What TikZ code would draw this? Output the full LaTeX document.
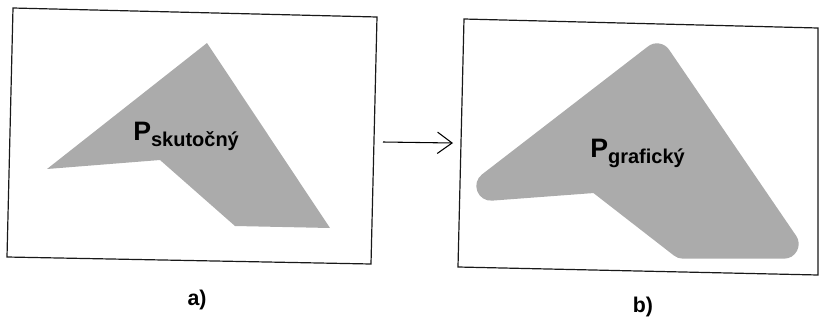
\documentclass[tikz,border=0pt]{standalone}
\usepackage{fontspec}
\setmainfont{Liberation Sans}
\usetikzlibrary{arrows.meta}
\tikzset{
  frame/.style={line width=0.9pt,black!90},
  area/.style={fill=black!33,draw=none},
  lbl/.style={inner sep=0pt,anchor=base west,font=\bfseries},
  caption label/.style={inner sep=0pt,font=\bfseries\fontsize{16}{16}\selectfont},
}
\newcommand{\Psub}[1]{{\fontsize{20}{20}\selectfont P}\raisebox{-5pt}{\fontsize{15}{15}\selectfont #1}}
\begin{document}
\begin{tikzpicture}[x=0.75pt,y=-0.75pt,>={Straight Barb[length=11pt,width=16pt]}]
  \useasboundingbox (0,0) rectangle (819,326);
  % a) skutocny
  \draw[frame] (13,8)--(377,17)--(371,264)--(7,257)--cycle;
  \fill[area] (207,43)--(330,228)--(235,226)--(160,160)--(47,169)--cycle;
  \node[lbl] (pa) at (133,140) {\Psub{skutočný}};
  \node[caption label] (capa) at (197,300) {a)};
  % b) graficky
  \draw[frame] (464,19)--(818,28)--(818,275)--(458,267)--cycle;
  \filldraw[area,draw=black!33,line width=22pt,line join=round] (657,58)--(784,244)--(683,244)--(598,178)--(491,186)--cycle;
  \node[lbl] (pb) at (590,157) {\Psub{grafický}};
  \node[caption label] (capb) at (643,307) {b)};
  \coordinate (aout) at (383,142); \coordinate (bin) at (453,143);
  \draw[->,line width=0.8pt] (aout)--(bin);
\end{tikzpicture}
\end{document}
